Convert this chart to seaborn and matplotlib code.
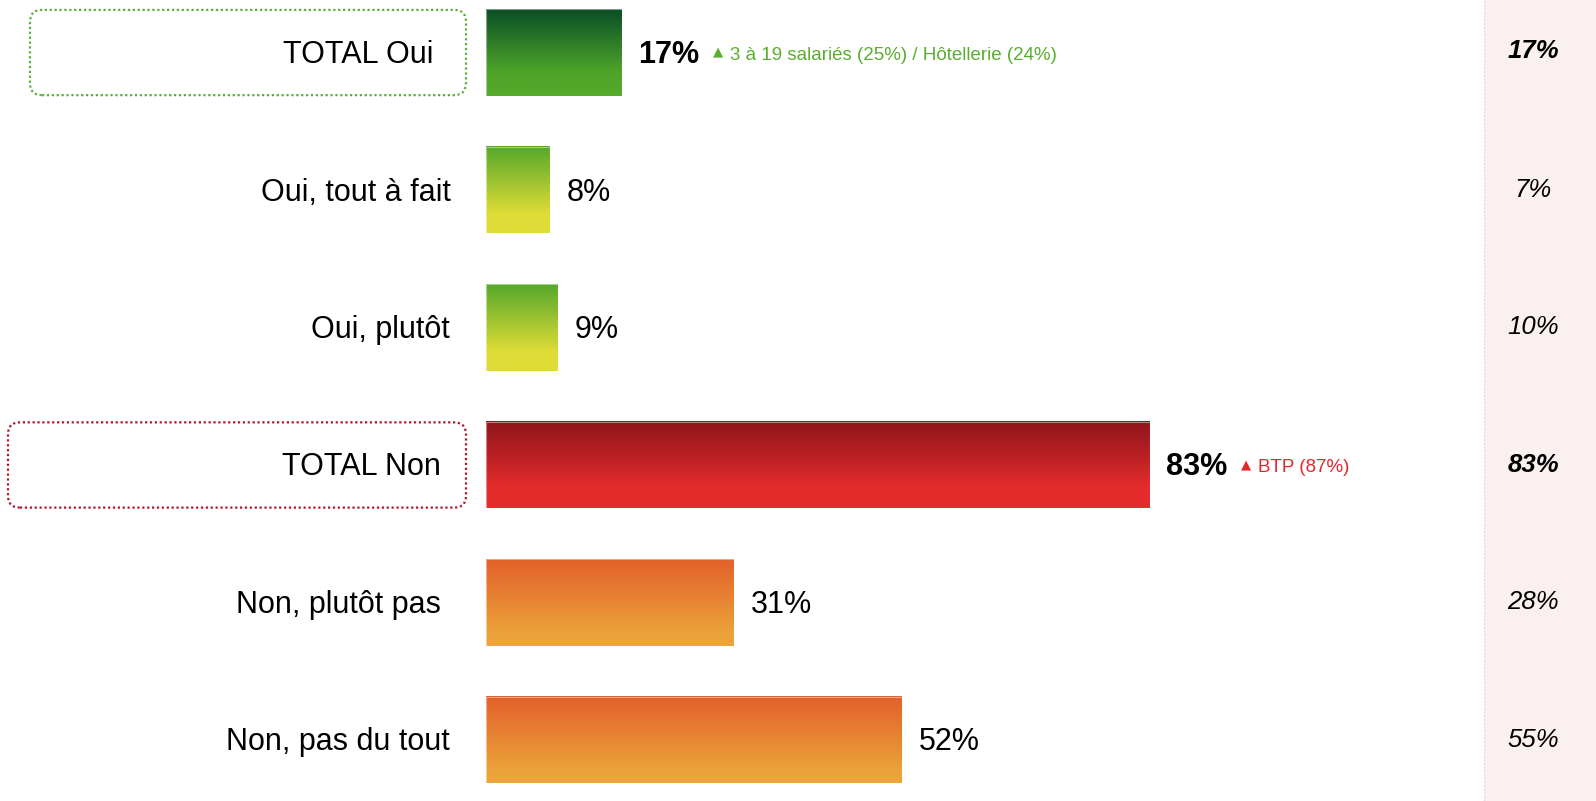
import numpy as np
import pandas as pd
import matplotlib
matplotlib.use("Agg")
import matplotlib.pyplot as plt
from matplotlib.colors import LinearSegmentedColormap
from matplotlib.patches import FancyBboxPatch, Rectangle
from matplotlib.lines import Line2D
from matplotlib.transforms import IdentityTransform, blended_transform_factory
import seaborn as sns

# ---- data ----
categories = ["TOTAL Oui", "Oui, tout à fait", "Oui, plutôt",
              "TOTAL Non", "Non, plutôt pas", "Non, pas du tout"]
values = [17, 8, 9, 83, 31, 52]
previous = [17, 7, 10, 83, 28, 55]
is_total = [True, False, False, True, False, False]
notes = ["3 à 19 salariés (25%) / Hôtellerie (24%)", "", "", "BTP (87%)", "", ""]

# ---- styles ----
gradient_stops = {
    "oui_total": [(0.0, "#0A4E26"), (0.72, "#4EA42A"), (1.0, "#55AA2A")],
    "oui":       [(0.0, "#56A82B"), (0.78, "#DEDC36"), (1.0, "#DFDD36")],
    "non_total": [(0.0, "#8E151C"), (0.75, "#E22B2B"), (1.0, "#E52C2C")],
    "non":       [(0.0, "#E2602A"), (0.85, "#EBA23A"), (1.0, "#ECA43B")],
}
bar_kind = ["oui_total", "oui", "oui", "non_total", "non", "non"]
note_colors = ["#5AAE2E", None, None, "#E2282C", None, None]
label_right_px = [433, 451, 450, 441, 441, 450]
box_specs = {0: ("#5CB03A", 30, 466), 3: ("#B0172A", 8, 466)}

W, H = 1596, 801
PANEL_X = 1484
RIGHT_COL_X = 1533
TEXT_DROP = -2.5  # nudge text down a touch, in pixels

sns.set_style("white")
plt.rcParams["font.family"] = ["Liberation Sans", "DejaVu Sans"]

df = pd.DataFrame({"category": categories, "value": values})

fig = plt.figure(figsize=(W / 100, H / 100), dpi=100)
fig.patch.set_facecolor("white")

# pale column on the right holding the previous wave
fig.patches.append(Rectangle((PANEL_X / W, 0), 1 - PANEL_X / W, 1,
                             transform=fig.transFigure, facecolor="#FAF0F0",
                             edgecolor="none", zorder=-2))
fig.lines.append(Line2D([PANEL_X / W, PANEL_X / W], [0, 1], transform=fig.transFigure,
                        color="#E6D6D6", lw=1, ls=":", zorder=-1))

ax = fig.add_axes([486 / W, 0, 800 / W, 1])
ax.patch.set_alpha(0)
ax.set_zorder(2)

BAR_H = 0.63
sns.barplot(data=df, x="value", y="category", orient="h", ax=ax,
            width=BAR_H, color="white", order=categories)

XLIM = (0, 100)
YLIM = (5.444, -0.382)

# gradient fill for each bar
for i, patch in enumerate(ax.patches):
    x0, y0 = patch.get_x(), patch.get_y()
    w, h = patch.get_width(), patch.get_height()
    cmap = LinearSegmentedColormap.from_list(bar_kind[i], gradient_stops[bar_kind[i]])
    grad = np.linspace(0, 1, 256).reshape(-1, 1)
    ax.imshow(grad, cmap=cmap, aspect="auto", origin="upper",
              extent=(x0, x0 + w, y0 + h, y0), zorder=2, interpolation="bilinear")
    patch.set_facecolor("none")
    patch.set_edgecolor((1, 1, 1, 0.45))
    patch.set_linewidth(0.8)
    patch.set_zorder(3)

ax.set_xlim(*XLIM)
ax.set_ylim(*YLIM)
ax.set_xticks([])
ax.set_yticks([])
ax.set_xlabel("")
ax.set_ylabel("")
for s in ax.spines.values():
    s.set_visible(False)

px_data = blended_transform_factory(IdentityTransform(), ax.transData)

# category labels, highlighted boxes for the totals
for i, cat in enumerate(categories):
    ax.annotate(cat, xy=(label_right_px[i], i), xycoords=px_data,
                xytext=(0, TEXT_DROP), textcoords="offset pixels",
                ha="right", va="center", fontsize=22, color="black",
                annotation_clip=False)
    if i in box_specs:
        col, bx0, bx1 = box_specs[i]
        _, ytop = ax.transData.transform((0, i - 0.31))
        _, ybot = ax.transData.transform((0, i + 0.31))
        box = FancyBboxPatch((bx0, ybot), bx1 - bx0, ytop - ybot,
                             boxstyle="round,pad=0,rounding_size=12",
                             transform=IdentityTransform(), facecolor="none",
                             edgecolor=col, lw=1.6, ls=(0, (1, 1.2)))
        fig.add_artist(box)

# value labels and significance notes
for i, patch in enumerate(ax.patches):
    v = values[i]
    end = patch.get_x() + patch.get_width()
    vt = ax.annotate(f"{v}%", xy=(end, i), xytext=(16 if is_total[i] else 17, TEXT_DROP),
                     textcoords="offset pixels", ha="left", va="center",
                     fontsize=22, fontweight="bold" if is_total[i] else "normal",
                     color="black", annotation_clip=False)
    if notes[i]:
        tri = ax.annotate("▲", xy=(1, 0.5), xycoords=vt, xytext=(14, 3),
                          textcoords="offset pixels", ha="left", va="center",
                          fontsize=9.5, color=note_colors[i], family=["DejaVu Sans"],
                          annotation_clip=False)
        ax.annotate(notes[i], xy=(1, 0.5), xycoords=(tri, vt), xytext=(7, 0),
                    textcoords="offset pixels", ha="left", va="center",
                    fontsize=13.5, color=note_colors[i], annotation_clip=False)

# previous wave figures
for i, p in enumerate(previous):
    ax.annotate(f"{p}%", xy=(RIGHT_COL_X, i), xycoords=px_data,
                xytext=(0, 1.5 if i == 0 else 0), textcoords="offset pixels",
                ha="center", va="center", fontsize=18.5, style="italic",
                fontweight="bold" if is_total[i] else "normal",
                color="black", annotation_clip=False)

fig.savefig("out.png", dpi=100, facecolor="white")
